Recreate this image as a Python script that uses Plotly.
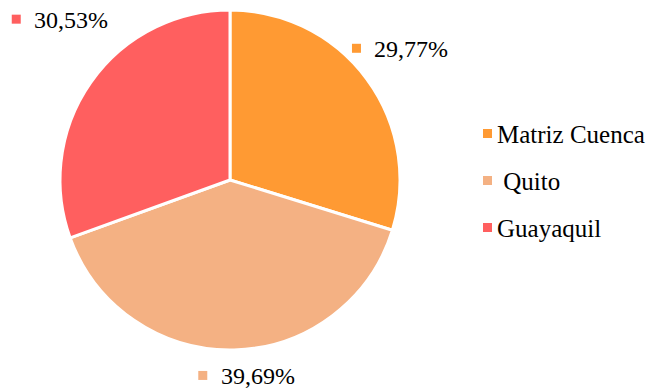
import math
import plotly.graph_objects as go

# Share of records per office
categories = ["Matriz Cuenca", " Quito", "Guayaquil"]
shares = [29.77, 39.69, 30.53]
colors = ["#FF9A33", "#F4B183", "#FF5F5F"]

W, H = 659, 392
CX, CY, R = 230, 180, 170          # pie centre and radius, in pixels
SERIF = "Times New Roman, Liberation Serif, DejaVu Serif, serif"


def px(x):
    return x / W


def py(y):
    return 1 - y / H


fig = go.Figure(go.Pie(
    labels=categories,
    values=shares,
    marker=dict(colors=colors, line=dict(color="white", width=3)),
    sort=False,
    direction="clockwise",
    rotation=0,
    textinfo="none",
    hoverinfo="label+value",
    showlegend=False,
    domain=dict(x=[px(CX - R), px(CX + R)], y=[py(CY + R), py(CY - R)]),
))

shapes = []
annotations = []

# Outside value labels, placed along each slice's mid angle
label_shift = [(-34.5, -13), (-32, -4.5), (-50, -46)]
total = sum(shares)
start = 0.0
for i, v in enumerate(shares):
    sweep = v / total * 2 * math.pi
    mid = start + sweep / 2
    start += sweep
    dx, dy = label_shift[i]
    sx = CX + 200 * math.sin(mid) + dx
    sy = CY - 200 * math.cos(mid) + dy
    shapes.append(dict(type="rect", xref="paper", yref="paper",
                       x0=px(sx - 4.5), x1=px(sx + 4.5),
                       y0=py(sy + 4.5), y1=py(sy - 4.5),
                       fillcolor=colors[i], line=dict(width=0)))
    annotations.append(dict(x=px(sx + 16), y=py(sy + 1), xref="paper", yref="paper",
                            text=f"{v:.2f}%".replace(".", ","), showarrow=False,
                            xanchor="left", yanchor="middle",
                            font=dict(family=SERIF, size=24, color="black")))

# Legend on the right
LX, LY0, LGAP = 487.5, 133.5, 47
for i, name in enumerate(categories):
    ly = LY0 + i * LGAP
    shapes.append(dict(type="rect", xref="paper", yref="paper",
                       x0=px(LX - 4.5), x1=px(LX + 4.5),
                       y0=py(ly + 4.5), y1=py(ly - 4.5),
                       fillcolor=colors[i], line=dict(width=0)))
    annotations.append(dict(x=px(LX + 7), y=py(ly + 1), xref="paper", yref="paper",
                            text=name.replace(" ", "&nbsp;"), showarrow=False,
                            xanchor="left", yanchor="middle",
                            font=dict(family=SERIF, size=25, color="black")))

fig.update_layout(
    width=W, height=H,
    margin=dict(l=0, r=0, t=0, b=0),
    paper_bgcolor="white",
    plot_bgcolor="white",
    font=dict(family=SERIF),
    shapes=shapes,
    annotations=annotations,
)

fig.write_html("out.html")
